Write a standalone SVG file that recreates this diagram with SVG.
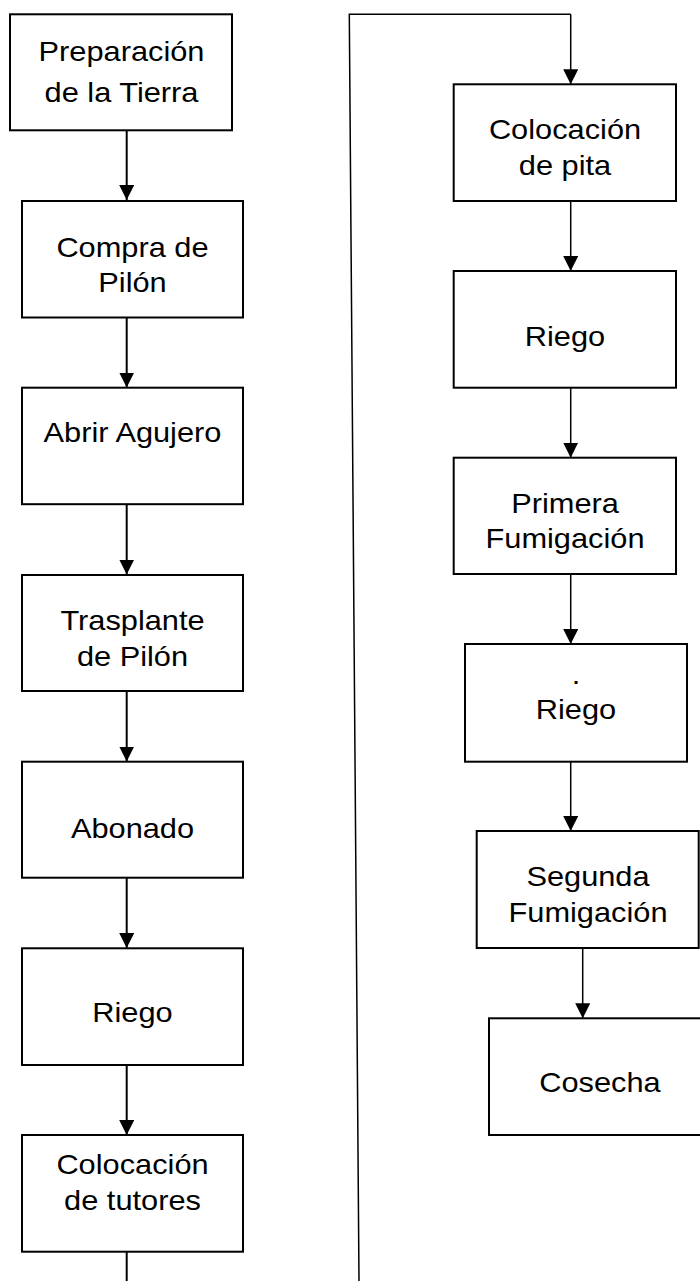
<svg xmlns="http://www.w3.org/2000/svg" width="700" height="1281" viewBox="0 0 700 1281">
<style>
.box{fill:#fff;stroke:#000;stroke-width:2}
.t{font-family:"Liberation Sans",Arial,sans-serif;font-size:27px;text-anchor:middle;fill:#000}
.c{stroke:#000;stroke-width:2;fill:none}
.l{stroke:#000;stroke-width:1.5;fill:none}
</style>
<defs>
<marker id="ah" markerUnits="userSpaceOnUse" markerWidth="16" markerHeight="16" refX="15" refY="7.5" orient="auto">
<path d="M0,0 L15,7.5 L0,15 Z" fill="#000"/>
</marker>
</defs>
<rect width="700" height="1281" fill="#fff"/>
<g id="connectors">
<line class="c" x1="126.7" y1="130" x2="126.7" y2="200" marker-end="url(#ah)"/>
<line class="c" x1="126.7" y1="317" x2="126.7" y2="387.5" marker-end="url(#ah)"/>
<line class="c" x1="126.7" y1="504" x2="126.7" y2="574.5" marker-end="url(#ah)"/>
<line class="c" x1="126.7" y1="691" x2="126.7" y2="761.5" marker-end="url(#ah)"/>
<line class="c" x1="126.7" y1="878" x2="126.7" y2="948" marker-end="url(#ah)"/>
<line class="c" x1="126.7" y1="1065" x2="126.7" y2="1135" marker-end="url(#ah)"/>
<line class="c" x1="126.7" y1="1252" x2="126.7" y2="1281"/>
<polyline class="l" points="359,1281 349.3,14.3 570.7,14.3"/>
<line class="l" x1="570.7" y1="14.3" x2="570.7" y2="84.3" marker-end="url(#ah)"/>
<line class="l" x1="570.7" y1="201" x2="570.7" y2="271" marker-end="url(#ah)"/>
<line class="l" x1="570.7" y1="388" x2="570.7" y2="457.7" marker-end="url(#ah)"/>
<line class="l" x1="570.7" y1="574" x2="570.7" y2="644" marker-end="url(#ah)"/>
<line class="l" x1="570.7" y1="762" x2="570.7" y2="831" marker-end="url(#ah)"/>
<line class="l" x1="582.7" y1="948" x2="582.7" y2="1018.3" marker-end="url(#ah)"/>
</g>
<g id="n1"><rect class="box" x="10" y="14.3" width="222" height="116"/>
<text class="t" transform="translate(121.5,61) scale(1.14,1)">Preparación</text>
<text class="t" transform="translate(121.5,101.5) scale(1.14,1)">de la Tierra</text></g>
<g id="n2"><rect class="box" x="22" y="201" width="221" height="116.5"/>
<text class="t" transform="translate(132.5,256.7) scale(1.14,1)">Compra de </text>
<text class="t" transform="translate(132.5,291.7) scale(1.14,1)">Pilón</text></g>
<g id="n3"><rect class="box" x="22" y="387.7" width="221" height="116.5"/>
<text class="t" transform="translate(132.5,441.7) scale(1.14,1)">Abrir Agujero</text></g>
<g id="n4"><rect class="box" x="22" y="575" width="221" height="116"/>
<text class="t" transform="translate(132.5,630) scale(1.14,1)">Trasplante</text>
<text class="t" transform="translate(132.5,666) scale(1.14,1)">de Pilón</text></g>
<g id="n5"><rect class="box" x="22" y="761.7" width="221" height="116"/>
<text class="t" transform="translate(132.5,838.3) scale(1.14,1)">Abonado</text></g>
<g id="n6"><rect class="box" x="22" y="948.3" width="221" height="116.7"/>
<text class="t" transform="translate(132.5,1021.7) scale(1.14,1)">Riego</text></g>
<g id="n7"><rect class="box" x="22" y="1135" width="221" height="116.7"/>
<text class="t" transform="translate(132.5,1174) scale(1.14,1)">Colocación</text>
<text class="t" transform="translate(132.5,1210) scale(1.14,1)">de tutores</text></g>
<g id="n8"><rect class="box" x="453.7" y="84.3" width="222.3" height="116.7"/>
<text class="t" transform="translate(565,139.3) scale(1.14,1)">Colocación</text>
<text class="t" transform="translate(565,175) scale(1.14,1)">de pita</text></g>
<g id="n9"><rect class="box" x="453.7" y="271" width="222.3" height="116.7"/>
<text class="t" transform="translate(565,346) scale(1.14,1)">Riego</text></g>
<g id="n10"><rect class="box" x="453.7" y="457.7" width="222.3" height="116.3"/>
<text class="t" transform="translate(565,512.7) scale(1.14,1)">Primera</text>
<text class="t" transform="translate(565,548) scale(1.14,1)">Fumigación</text></g>
<g id="n11"><rect class="box" x="465" y="644" width="222" height="117.7"/>
<text class="t" transform="translate(576,683.5) scale(1.14,1)">.</text>
<text class="t" transform="translate(576,719.3) scale(1.14,1)">Riego</text></g>
<g id="n12"><rect class="box" x="476.7" y="831" width="222" height="117"/>
<text class="t" transform="translate(588,886) scale(1.14,1)">Segunda</text>
<text class="t" transform="translate(588,921.7) scale(1.14,1)">Fumigación</text></g>
<g id="n13"><rect class="box" x="489" y="1018.3" width="222" height="116.7"/>
<text class="t" transform="translate(600,1091.7) scale(1.14,1)">Cosecha</text></g>
</svg>
